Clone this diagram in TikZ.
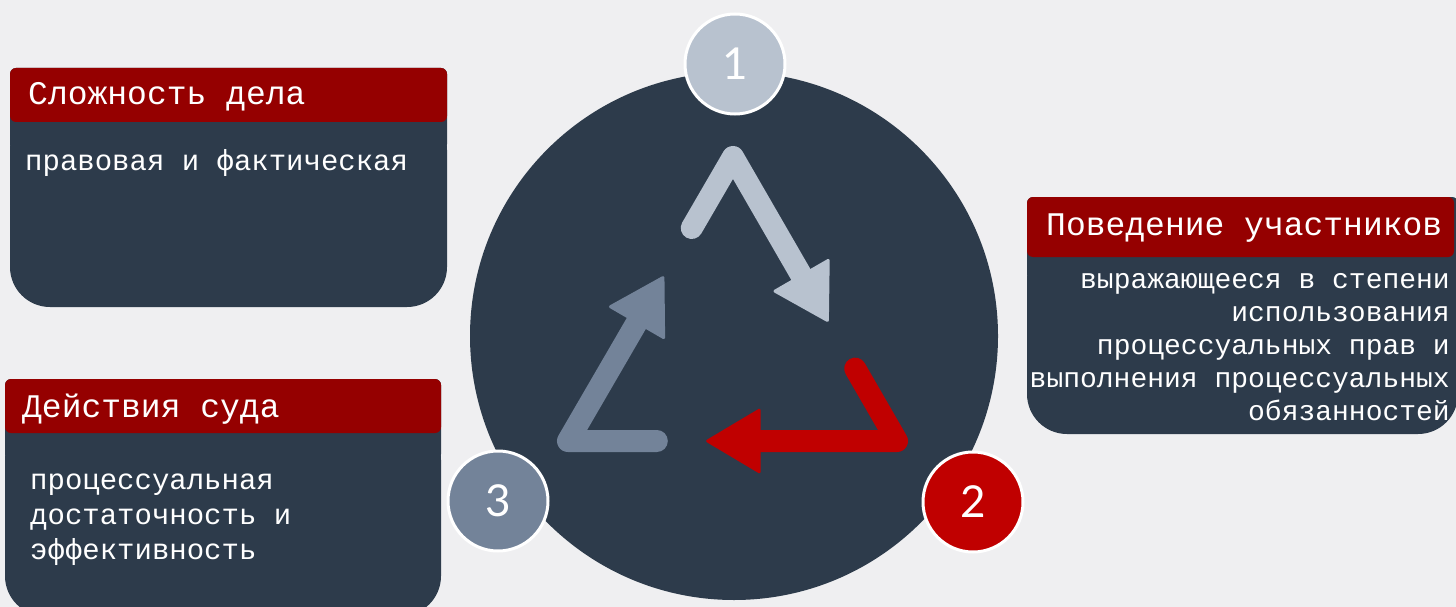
\documentclass[tikz,border=0pt]{standalone}
\usepackage{fontspec}
\setmainfont{Liberation Mono}
\newfontfamily\numfont{Lato}
\usetikzlibrary{arrows.meta,calc}
\definecolor{bgc}{HTML}{EFEFF1}
\definecolor{boxdark}{HTML}{2D3B4B}
\definecolor{hdred}{HTML}{950000}
\definecolor{accred}{HTML}{C00000}
\definecolor{lightarr}{HTML}{B8C2CF}
\definecolor{grayarr}{HTML}{738399}
\tikzset{
  hdtext/.style={text=white, inner sep=0pt, font=\fontsize{33}{40}\selectfont},
  bodytext/.style={text=white, inner sep=0pt, font=\fontsize{29}{35}\selectfont},
  bodytextr/.style={text=white, inner sep=0pt, font=\fontsize{28}{33}\selectfont, anchor=base east},
  numcircle/.style={circle, draw=white, line width=3pt, minimum size=100pt, inner sep=0pt,
     text=white, font=\numfont\fontsize{44}{50}\selectfont},
  cyclearrow/.style={line width=22pt, line cap=round, line join=round,
     -{Triangle[length=56pt, width=66pt, line width=3pt, round]}},
}
\begin{document}
\begin{tikzpicture}[x=1pt,y=-1pt]
\useasboundingbox (0,0) rectangle (1456,607);
\fill[bgc] (0,0) rectangle (1456,607);
\begin{scope}
\clip (0,0) rectangle (1456,607);
% box 1
\fill[boxdark, rounded corners=40pt] (10,110) -- (10,307) -- (447,307) -- (447,110) -- cycle;
\fill[boxdark, rounded corners=6pt] (10,68) rectangle (447,150);
\fill[hdred, rounded corners=6pt] (10,68) rectangle (447,122);
% box 2
\fill[boxdark, rounded corners=40pt] (1027,240) -- (1027,434) -- (1458,434) -- (1458,240) -- cycle;
\fill[boxdark, rounded corners=6pt] (1027,197) rectangle (1458,280);
\fill[hdred, rounded corners=6pt] (1027,197) rectangle (1454,257);
% box 3
\fill[boxdark, rounded corners=40pt] (5,420) -- (5,616) -- (441,616) -- (441,420) -- cycle;
\fill[boxdark, rounded corners=6pt] (5,379) rectangle (441,460);
\fill[hdred, rounded corners=6pt] (5,379) rectangle (441,433);
\end{scope}
% headers
\node[hdtext, anchor=base west] (h1) at (28,105) {Сложность дела};
\node[hdtext, anchor=base west] (h2) at (1046,235) {Поведение участников};
\node[hdtext, anchor=base west] (h3) at (22,417) {Действия суда};
% body texts
\node[bodytext, anchor=base west] (b1) at (25,171) {правовая и фактическая};
\node[bodytext, anchor=base west] (b3a) at (30,489) {процессуальная};
\node[bodytext, anchor=base west] (b3b) at (30,524) {достаточность и};
\node[bodytext, anchor=base west] (b3c) at (30,559) {эффективность};
\node[bodytextr] (b2a) at (1450,288) {выражающееся в степени};
\node[bodytextr] (b2b) at (1450,321) {использования};
\node[bodytextr] (b2c) at (1450,354) {процессуальных прав и};
\node[bodytextr] (b2d) at (1450,387) {выполнения процессуальных};
\node[bodytextr] (b2e) at (1450,420) {обязанностей};
% big circle
\fill[boxdark] (734,336) circle[radius=264pt];
% cycle arrows
\coordinate (A) at (733,157);
\coordinate (B) at (897,441);
\coordinate (C) at (568,441);
\draw[cyclearrow, draw=lightarr] ($(A)!0.25!(C)$) -- (A) -- ($(A)!0.58!(B)$);
\draw[cyclearrow, draw=accred] ($(B)!0.255!(A)$) -- (B) -- ($(B)!0.58!(C)$);
\draw[cyclearrow, draw=grayarr] ($(C)!0.27!(B)$) -- (C) -- ($(C)!0.58!(A)$);
% number circles
\node[numcircle, fill=lightarr] (n1) at (735,64) {1};
\node[numcircle, fill=accred] (n2) at (973,502) {2};
\node[numcircle, fill=grayarr] (n3) at (498,501) {3};
\end{tikzpicture}
\end{document}
